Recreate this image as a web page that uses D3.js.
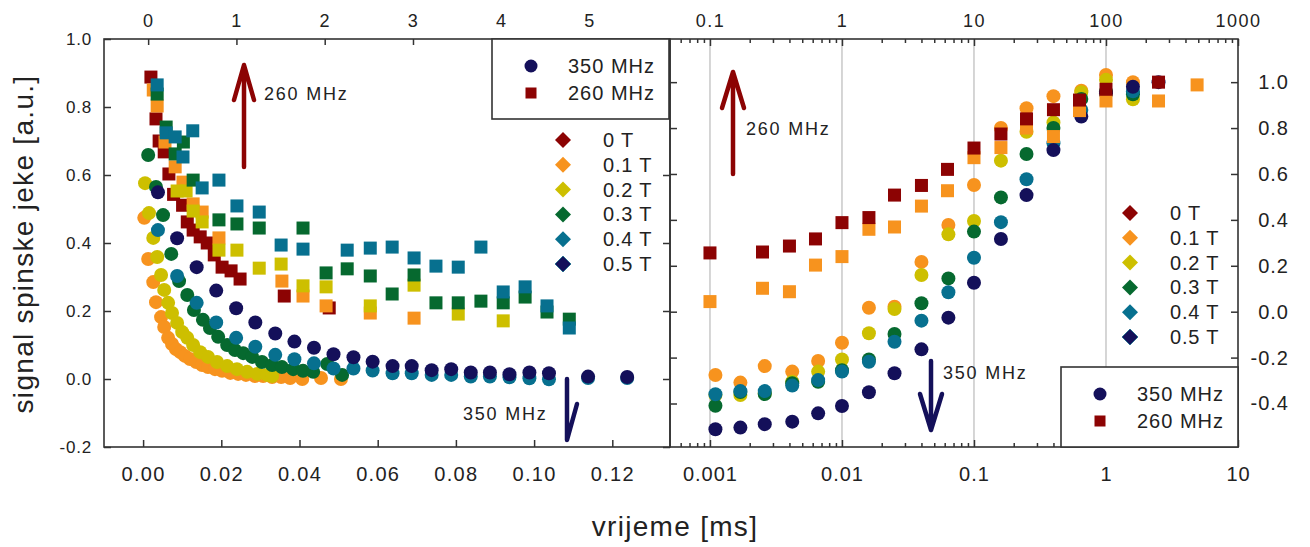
<!DOCTYPE html>
<html>
<head>
<meta charset="utf-8">
<script src="https://cdn.jsdelivr.net/npm/d3@7"></script>
<style>
body{margin:0;background:#fff;}
text{font-family:"Liberation Sans",Arial,sans-serif;fill:#222;}
</style>
</head>
<body>
<svg id="chart" width="1310" height="547"></svg>
<script>
// polja / boje
var fields = ["0 T","0.1 T","0.2 T","0.3 T","0.4 T","0.5 T"];
var colors = ["#8c0303","#f7931e","#cdbf00","#06692f","#07708f","#14105a"];

// ---- lijevi graf (linearno vrijeme) ----
var linTicksBottom = [0,0.02,0.04,0.06,0.08,0.10,0.12];
var linTicksTop = [0,1,2,3,4,5];
var linTicksY = [-0.2,0,0.2,0.4,0.6,0.8,1.0];

// 260 MHz (kvadrati) [t, signal]
var lin260_0T = [[0.0020,0.888],[0.0033,0.765],[0.0041,0.700],[0.0054,0.668],[0.0066,0.603],[0.0078,0.543],[0.0101,0.511],[0.0113,0.462],[0.0128,0.438],[0.0146,0.418],[0.0164,0.400],[0.0182,0.365],[0.0202,0.329],[0.0225,0.318],[0.0248,0.294],[0.0361,0.244],[0.0476,0.209]];
var lin260_01 = [[0.0026,0.850],[0.0036,0.803],[0.0056,0.697],[0.0082,0.624],[0.0102,0.579],[0.0128,0.515],[0.0151,0.491],[0.0194,0.415],[0.0355,0.288],[0.0409,0.244],[0.0468,0.215],[0.0581,0.194],[0.0693,0.179]];
var lin260_02 = [[0.0087,0.553],[0.0110,0.553],[0.0128,0.494],[0.0151,0.462],[0.0194,0.379],[0.0240,0.379],[0.0297,0.326],[0.0353,0.338],[0.0409,0.274],[0.0468,0.271],[0.0581,0.215],[0.0693,0.276],[0.0806,0.191],[0.0921,0.171]];
var lin260_03 = [[0.0036,0.838],[0.0059,0.741],[0.0082,0.662],[0.0103,0.697],[0.0128,0.585],[0.0194,0.468],[0.0240,0.456],[0.0297,0.444],[0.0409,0.444],[0.0468,0.312],[0.0522,0.324],[0.0581,0.303],[0.0637,0.250],[0.0693,0.306],[0.0749,0.224],[0.0806,0.224],[0.0864,0.229],[0.0921,0.224],[0.0977,0.241],[0.1033,0.197],[0.1090,0.176]];
var lin260_04 = [[0.0036,0.865],[0.0059,0.724],[0.0082,0.712],[0.0102,0.653],[0.0127,0.730],[0.0151,0.562],[0.0194,0.585],[0.0240,0.509],[0.0297,0.491],[0.0353,0.394],[0.0409,0.382],[0.0522,0.379],[0.0581,0.385],[0.0637,0.388],[0.0693,0.356],[0.0749,0.332],[0.0806,0.329],[0.0864,0.388],[0.0921,0.256],[0.0977,0.271],[0.1033,0.215],[0.1090,0.150]];

// 350 MHz (krugovi)
var lin350_01 = [[0.0003,0.474],[0.0013,0.353],[0.0026,0.285],[0.0033,0.226],[0.0046,0.182],[0.0054,0.153],[0.0064,0.121],[0.0074,0.103],[0.0084,0.088],[0.0095,0.079],[0.0107,0.068],[0.0120,0.059],[0.0136,0.050],[0.0151,0.041],[0.0166,0.035],[0.0184,0.029],[0.0202,0.024],[0.0223,0.018],[0.0243,0.015],[0.0263,0.012],[0.0286,0.009],[0.0307,0.009],[0.0330,0.006],[0.0353,0.006],[0.0376,0.003],[0.0407,0.000],[0.0455,0.003],[0.0506,0.000]];
var lin350_02 = [[0.0005,0.576],[0.0015,0.488],[0.0026,0.415],[0.0036,0.359],[0.0046,0.306],[0.0054,0.262],[0.0064,0.224],[0.0074,0.194],[0.0087,0.165],[0.0100,0.138],[0.0113,0.121],[0.0128,0.100],[0.0146,0.079],[0.0166,0.065],[0.0189,0.050],[0.0215,0.038],[0.0240,0.029],[0.0266,0.021],[0.0292,0.015],[0.0317,0.012],[0.0330,0.009]];
var lin350_03 = [[0.0013,0.659],[0.0033,0.565],[0.0051,0.482],[0.0072,0.368],[0.0092,0.288],[0.0113,0.247],[0.0130,0.203],[0.0153,0.174],[0.0171,0.150],[0.0192,0.124],[0.0215,0.100],[0.0235,0.085],[0.0256,0.076],[0.0279,0.065],[0.0304,0.050],[0.0330,0.041],[0.0355,0.035],[0.0384,0.029],[0.0409,0.024],[0.0435,0.021],[0.0471,0.044],[0.0509,0.012]];
var linT_350 = [0.0038,0.0087,0.0137,0.0187,0.0238,0.0287,0.0338,0.0387,0.0437,0.0487,0.0538,0.0587,0.0638,0.0687,0.0738,0.0788,0.0838,0.0887,0.0937,0.0988,0.1038,0.1138,0.1238];
var lin350_04 = [0.438,0.303,0.224,0.166,0.121,0.095,0.071,0.058,0.046,0.031,0.031,0.025,0.017,0.017,0.012,0.012,0.007,0.007,0.005,0.002,-0.001,0.003,0.003];
var lin350_05 = [0.549,0.414,0.329,0.260,0.208,0.166,0.134,0.110,0.092,0.073,0.064,0.051,0.038,0.038,0.026,0.029,0.019,0.019,0.014,0.019,0.017,0.007,0.006];

// ---- desni graf (log vrijeme) ----
var logTicksBottom = [0.001,0.01,0.1,1,10];
var logTicksTop = [0.1,1,10,100,1000];
var logTicksY = [-0.4,-0.2,0,0.2,0.4,0.6,0.8,1.0];
var logT_260 = [0.001,0.0025,0.004,0.0063,0.01,0.016,0.025,0.04,0.063,0.1,0.16,0.25,0.4,0.63,1.0,2.5,4.9];
var log260_0T = [0.256,0.26,0.286,0.317,0.388,0.41,0.508,0.55,0.62,0.713,0.774,0.84,0.88,0.922,0.969,1.0,null];
var log260_01 = [0.044,0.102,0.087,0.203,0.24,0.359,0.369,0.46,0.527,0.671,0.715,0.8,0.763,0.876,0.918,0.918,0.988];
var logT_350 = [0.0011,0.0017,0.0026,0.0042,0.0066,0.01,0.016,0.025,0.04,0.064,0.1,0.16,0.25,0.4,0.65,1.0,1.6,2.5];
var log350_01 = [-0.276,-0.309,-0.237,-0.261,-0.215,-0.135,0.017,0.022,0.217,0.378,0.552,0.8,0.886,0.939,0.963,1.031,1.0,null];
var log350_02 = [-0.363,-0.363,-0.356,-0.305,-0.261,-0.208,-0.094,0.012,0.16,0.337,0.395,0.658,0.784,0.824,0.956,1.01,0.925,null];
var log350_03 = [-0.41,-0.35,-0.359,-0.312,-0.305,-0.255,-0.208,-0.097,0.037,0.145,0.349,0.498,0.687,0.8,0.927,0.96,0.947,null];
var log350_04 = [-0.36,-0.346,-0.346,-0.322,-0.298,-0.261,-0.218,-0.131,-0.039,0.085,0.235,0.39,0.577,0.734,0.879,0.95,0.96,null];
var log350_05 = [-0.512,-0.505,-0.49,-0.479,-0.443,-0.411,-0.351,-0.268,-0.164,-0.026,0.126,0.317,0.508,0.704,0.85,0.952,0.98,1.0];

var svg = d3.select("#chart");
var top0 = 39, bot0 = 447;

// skale
var xL = d3.scaleLinear().domain([-0.01,0.1345]).range([104,669]);
var xLtop = d3.scaleLinear().domain([-0.5,5.9]).range([104,669]);
var yL = d3.scaleLinear().domain([-0.2,1.0]).range([bot0,top0]);
var xR = d3.scaleLog().domain([0.000498,10]).range([670,1238]);
var xRtop = d3.scaleLog().domain([0.0498,1000]).range([670,1238]);
var yR = d3.scaleLinear().domain([-0.5895,1.188]).range([bot0,top0]);

function fmt1(d){ return d.toFixed(1); }
function minors(lo,hi){
	var out=[];
	for(var e=lo;e<hi;e++){
		for(var k=2;k<=9;k++){ out.push(k*Math.pow(10,e)); }
	}
	return out;
}
function styleAxis(g,size,ls){
	g.select(".domain").remove();
	g.selectAll("line").attr("stroke","#333").attr("stroke-width",1.5);
	g.selectAll("text").attr("fill","#222").style("font-size",size+"px")
		.style("letter-spacing",ls+"px").style("font-family",'"Liberation Sans",Arial,sans-serif');
}

// mreza desno
svg.append("g").selectAll("line").data([0.001,0.01,0.1,1]).join("line")
	.attr("x1",d=>xR(d)).attr("x2",d=>xR(d)).attr("y1",top0).attr("y2",bot0)
	.attr("stroke","#c8c8c8").attr("stroke-width",1.5);

// ---- osi lijevo ----
var g;
g = svg.append("g").attr("transform","translate(104,0)")
	.call(d3.axisLeft(yL).tickValues(linTicksY).tickFormat(fmt1).tickSizeInner(-7).tickSizeOuter(0).tickPadding(12));
styleAxis(g,17,0.8);
g = svg.append("g").attr("transform","translate(670,0)")
	.call(d3.axisLeft(yL).tickValues(linTicksY).tickFormat("").tickSizeInner(7).tickSizeOuter(0));
styleAxis(g,17,0);
g = svg.append("g").attr("transform","translate(0,"+bot0+")")
	.call(d3.axisBottom(xL).tickValues(linTicksBottom).tickFormat(d=>d.toFixed(2)).tickSizeInner(-7).tickSizeOuter(0).tickPadding(20));
styleAxis(g,20,1.3);
g = svg.append("g").attr("transform","translate(0,"+top0+")")
	.call(d3.axisTop(xLtop).tickValues(linTicksTop).tickFormat(d3.format("d")).tickSizeInner(-6).tickSizeOuter(0).tickPadding(12));
styleAxis(g,18,1.5);

// ---- osi desno ----
g = svg.append("g").attr("transform","translate(670,0)")
	.call(d3.axisRight(yR).tickValues(logTicksY).tickFormat("").tickSizeInner(7).tickSizeOuter(0));
styleAxis(g,17,0);
g = svg.append("g").attr("transform","translate(1238,0)")
	.call(d3.axisRight(yR).tickValues(logTicksY).tickFormat(fmt1).tickSizeInner(-7).tickSizeOuter(0).tickPadding(51));
styleAxis(g,20,1);
g.selectAll("text").attr("text-anchor","end");
g = svg.append("g").attr("transform","translate(0,"+bot0+")")
	.call(d3.axisBottom(xR).tickValues(minors(-4,1).filter(d=>d>0.0005&&d<10)).tickFormat("").tickSizeInner(-4).tickSizeOuter(0));
styleAxis(g,20,1);
g = svg.append("g").attr("transform","translate(0,"+bot0+")")
	.call(d3.axisBottom(xR).tickValues(logTicksBottom).tickFormat(d=>String(d)).tickSizeInner(-7).tickSizeOuter(0).tickPadding(20));
styleAxis(g,20,1);
g = svg.append("g").attr("transform","translate(0,"+top0+")")
	.call(d3.axisTop(xRtop).tickValues(minors(-2,3).filter(d=>d>0.05&&d<1000)).tickFormat("").tickSizeInner(-4).tickSizeOuter(0));
styleAxis(g,18,1.5);
g = svg.append("g").attr("transform","translate(0,"+top0+")")
	.call(d3.axisTop(xRtop).tickValues(logTicksTop).tickFormat(d=>String(d)).tickSizeInner(-7).tickSizeOuter(0).tickPadding(12));
styleAxis(g,18,1.5);

// okviri
svg.append("rect").attr("x",104).attr("y",top0).attr("width",566).attr("height",bot0-top0)
	.attr("fill","none").attr("stroke","#333").attr("stroke-width",1.6);
svg.append("rect").attr("x",670).attr("y",top0).attr("width",568).attr("height",bot0-top0)
	.attr("fill","none").attr("stroke","#333").attr("stroke-width",1.6);

// ---- tocke ----
function squares(data,xs,ys,col){
	svg.append("g").selectAll("rect").data(data.filter(d=>d[1]!=null)).join("rect")
		.attr("x",d=>xs(d[0])-6.5).attr("y",d=>ys(d[1])-6.5)
		.attr("width",13).attr("height",13).attr("fill",col);
}
function circles(data,xs,ys,col){
	svg.append("g").selectAll("circle").data(data.filter(d=>d[1]!=null)).join("circle")
		.attr("cx",d=>xs(d[0])).attr("cy",d=>ys(d[1])).attr("r",7).attr("fill",col);
}
function zip(ts,vs){ return ts.map((t,i)=>[t,vs[i]]); }

// lijevo: prvo kvadrati pa krugovi
squares(lin260_0T,xL,yL,colors[0]);
squares(lin260_01,xL,yL,colors[1]);
squares(lin260_02,xL,yL,colors[2]);
squares(lin260_03,xL,yL,colors[3]);
squares(lin260_04,xL,yL,colors[4]);
circles(lin350_01,xL,yL,colors[1]);
circles(lin350_02,xL,yL,colors[2]);
circles(lin350_03,xL,yL,colors[3]);
circles(zip(linT_350,lin350_04),xL,yL,colors[4]);
circles(zip(linT_350,lin350_05),xL,yL,colors[5]);

// desno: krugovi pa kvadrati
circles(zip(logT_350,log350_01),xR,yR,colors[1]);
circles(zip(logT_350,log350_02),xR,yR,colors[2]);
circles(zip(logT_350,log350_03),xR,yR,colors[3]);
circles(zip(logT_350,log350_04),xR,yR,colors[4]);
circles(zip(logT_350,log350_05),xR,yR,colors[5]);
squares(zip(logT_260,log260_01),xR,yR,colors[1]);
squares(zip(logT_260,log260_0T),xR,yR,colors[0]);

// ---- strelice ----
function arrow(d,col){
	svg.append("path").attr("d",d).attr("fill","none").attr("stroke",col)
		.attr("stroke-width",4.5).attr("stroke-linecap","round").attr("stroke-linejoin","round");
}
function label(x,y,t){
	svg.append("text").attr("x",x).attr("y",y).text(t)
		.style("font-size","18px").style("letter-spacing","1.8px");
}
arrow("M244,167L244,65M234,100L244,65L254,100",colors[0]);
label(264,100,"260 MHz");
arrow("M567,379L567,440L577,404",colors[5]);
label(463,420,"350 MHz");
arrow("M733,174L733,72M722,108L733,72L744,108",colors[0]);
label(746,135,"260 MHz");
arrow("M931,361L931,430M920,394L931,430L942,394",colors[5]);
label(943,379,"350 MHz");

// ---- legende ----
function freqLegend(x,y){
	svg.append("rect").attr("x",x).attr("y",y).attr("width",177).attr("height",80)
		.attr("fill","#fff").attr("stroke","#333").attr("stroke-width",1.6);
	svg.append("circle").attr("cx",x+39).attr("cy",y+27).attr("r",6.5).attr("fill",colors[5]);
	svg.append("rect").attr("x",x+33.5).attr("y",y+48.5).attr("width",11).attr("height",11).attr("fill",colors[0]);
	svg.append("text").attr("x",x+76).attr("y",y+34).text("350 MHz").style("font-size","20px").style("letter-spacing","1px");
	svg.append("text").attr("x",x+76).attr("y",y+61).text("260 MHz").style("font-size","20px").style("letter-spacing","1px");
}
function fieldLegend(x,y){
	var lg = svg.append("g").attr("transform","translate("+x+","+y+")");
	var it = lg.selectAll("g").data(fields).join("g").attr("transform",(d,i)=>"translate(0,"+(i*24.8)+")");
	it.append("path").attr("d","M0,-8L8,0L0,8L-8,0Z").attr("fill",(d,i)=>colors[i])
		.attr("stroke",(d,i)=>i==5?"#2a6f8f":"none").attr("stroke-width",1);
	it.append("text").attr("x",40).attr("y",7).text(d=>d).style("font-size","20px").style("letter-spacing","0.8px");
}
freqLegend(492,39);
freqLegend(1061,367);
fieldLegend(563,140);
fieldLegend(1130,213);

// naslovi osi
svg.append("text").attr("transform","translate(33,244) rotate(-90)").attr("text-anchor","middle")
	.text("signal spinske jeke [a.u.]").style("font-size","28px").style("letter-spacing","1.3px");
svg.append("text").attr("x",675).attr("y",536).attr("text-anchor","middle")
	.text("vrijeme [ms]").style("font-size","28px").style("letter-spacing","1.3px");
</script>
</body>
</html>
